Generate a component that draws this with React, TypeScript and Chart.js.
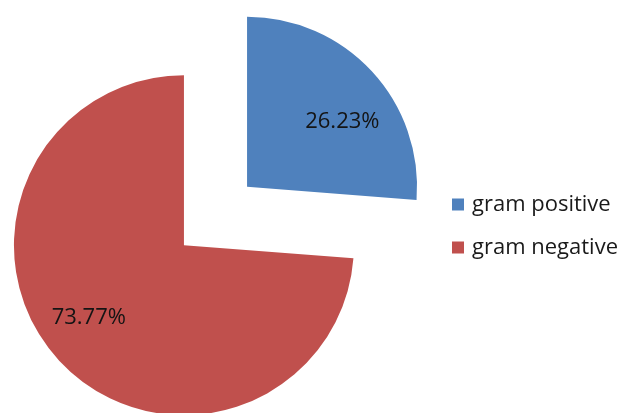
import React, { useEffect, useRef } from 'react';
import { Chart, registerables } from 'chart.js';

Chart.register(...registerables);

const categories = ['gram positive', 'gram negative'];
const percentages = [26.23, 73.77];
const valueLabels = ['26.23%', '73.77%'];
const sliceColors = ['#4F81BD', '#C0504D'];

const FONT = "'Open Sans', 'DejaVu Sans', sans-serif";
const PIE_RADIUS = 170;
const EXPLODE = 43;
const PIE_SHIFT_X = -1.5;
const LABEL_ANGLE_FRAC = [0.588, 0.52];
const LABEL_RADIUS_FRAC = [0.68, 0.705];

const explodePlugin = {
  id: 'explodeSlices',
  afterDatasetsUpdate(chart: any) {
    const area = chart.chartArea;
    const cx = (area.left + area.right) / 2 + PIE_SHIFT_X;
    const cy = (area.top + area.bottom) / 2;
    const meta = chart.getDatasetMeta(0);
    meta.data.forEach((arc: any) => {
      const mid = (arc.startAngle + arc.endAngle) / 2;
      arc.x = cx + Math.cos(mid) * EXPLODE;
      arc.y = cy + Math.sin(mid) * EXPLODE;
    });
  },
};

const sliceLabelPlugin = {
  id: 'sliceLabels',
  afterDatasetsDraw(chart: any) {
    const ctx = chart.ctx;
    const meta = chart.getDatasetMeta(0);
    ctx.save();
    ctx.font = `22px ${FONT}`;
    ctx.fillStyle = '#141414';
    ctx.textAlign = 'center';
    ctx.textBaseline = 'middle';
    meta.data.forEach((arc: any, i: number) => {
      const a = arc.startAngle + LABEL_ANGLE_FRAC[i] * (arc.endAngle - arc.startAngle);
      const r = arc.outerRadius * LABEL_RADIUS_FRAC[i];
      ctx.fillText(valueLabels[i], arc.x + Math.cos(a) * r, arc.y + Math.sin(a) * r);
    });
    ctx.restore();
  },
};

export default function App() {
  const canvasRef = useRef<HTMLCanvasElement | null>(null);

  useEffect(() => {
    if (!canvasRef.current) return;
    const chart = new Chart(canvasRef.current, {
      type: 'pie',
      data: {
        labels: categories,
        datasets: [
          {
            data: percentages,
            backgroundColor: sliceColors,
            borderWidth: 0,
            radius: PIE_RADIUS,
          } as any,
        ],
      },
      options: {
        responsive: false,
        animation: false,
        events: [],
        devicePixelRatio: 1,
        layout: { padding: { left: 0, top: 19, right: 0, bottom: 0 } },
        plugins: {
          tooltip: { enabled: false },
          legend: {
            position: 'right',
            maxWidth: 190,
            title: { display: true, text: '', font: { size: 10, lineHeight: 1 }, padding: { top: 10, bottom: 0 } },
            labels: {
              usePointStyle: true,
              pointStyle: 'rect',
              boxWidth: 6,
              boxHeight: 12,
              padding: 21,
              color: '#1a1a1a',
              font: { family: FONT, size: 22 },
            },
          },
        },
      } as any,
      plugins: [explodePlugin, sliceLabelPlugin],
    });
    return () => chart.destroy();
  }, []);

  return (
    <div style={{ position: 'fixed', left: 0, top: 0, width: 624, height: 413, background: '#fff' }}>
      <canvas ref={canvasRef} width={624} height={413} style={{ display: 'block' }} />
    </div>
  );
}
